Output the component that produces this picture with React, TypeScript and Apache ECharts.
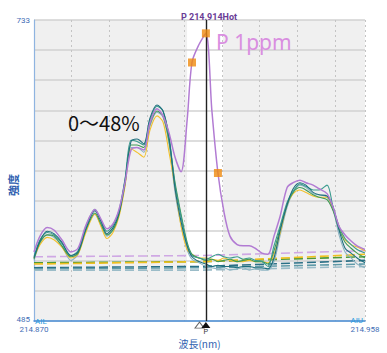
import React, { useEffect, useRef } from "react";
import * as echarts from "echarts";

const X_MIN = 214.87;
const X_MAX = 214.958;
const Y_MIN = 485;
const Y_MAX = 733;
const CURSOR = 214.9157;
const PEAK_WL = 214.914;
const BAND = [214.9107, 214.9202];

const wavelengths = [
  214.87, 214.8716, 214.8735, 214.8753, 214.8774, 214.8798, 214.8817, 214.8838, 214.8862, 214.8878,
  214.8894, 214.891, 214.8926, 214.8942, 214.8958, 214.8974, 214.8992, 214.9008, 214.9027, 214.9043,
  214.9059, 214.9075, 214.9091, 214.9107, 214.912, 214.9139, 214.9157, 214.9173, 214.9189, 214.9205,
  214.9221, 214.924, 214.9256, 214.9272, 214.9288, 214.9306, 214.9322, 214.9338, 214.9354, 214.9373,
  214.9389, 214.9407, 214.9423, 214.9442, 214.9458, 214.9479, 214.9495, 214.9511, 214.9527, 214.9543,
  214.9559, 214.958,
];

const p1ppm = [542, 555, 562, 560, 552, 542, 545, 564, 577, 569, 561, 565, 577, 599, 626, 628, 626, 648, 660, 654, 640, 620, 608, 650, 698, 713, 722, 658, 607, 575, 555, 548, 547, 547, 545, 541, 540, 555, 571, 595, 599, 601, 599, 597, 594, 590, 579, 563, 556, 551, 547, 544];
const s1 = [537, 551, 559, 557, 550, 539, 542, 561, 576, 567, 557, 562, 574, 601, 633, 635, 631, 652, 663, 658, 636, 594, 567, 547, 538, 534, 532, 530, 531, 530, 530, 529, 530, 530, 529, 529, 528, 537, 559, 581, 594, 599, 597, 591, 589, 588, 579, 560, 545, 541, 537, 533];
const s2 = [538, 552, 558, 556, 549, 539, 543, 563, 577, 568, 559, 564, 576, 602, 634, 633, 630, 650, 662, 658, 637, 597, 571, 548, 539, 537, 536, 538, 540, 538, 537, 538, 536, 537, 535, 534, 530, 547, 563, 583, 592, 598, 596, 593, 593, 597, 579, 563, 553, 548, 544, 541];
const s3 = [536, 550, 556, 555, 547, 538, 541, 560, 574, 565, 556, 560, 573, 598, 630, 630, 628, 647, 658, 654, 633, 599, 573, 550, 540, 537, 535, 536, 534, 535, 536, 534, 535, 536, 534, 534, 532, 543, 561, 581, 591, 595, 593, 589, 587, 585, 576, 561, 550, 545, 541, 537];
const s4 = [537, 548, 554, 552, 546, 537, 540, 558, 573, 563, 553, 558, 571, 596, 627, 624, 620, 642, 654, 649, 624, 595, 563, 544, 540, 537, 537, 536, 535, 537, 535, 534, 534, 535, 534, 534, 533, 540, 557, 581, 590, 593, 591, 588, 587, 587, 577, 563, 552, 548, 546, 543];
const s5 = [535, 549, 556, 554, 547, 535, 540, 560, 573, 564, 555, 560, 573, 598, 628, 628, 624, 645, 657, 653, 631, 591, 564, 544, 536, 533, 530, 529, 528, 529, 527, 528, 529, 527, 528, 527, 527, 534, 555, 579, 591, 597, 595, 590, 589, 587, 577, 556, 542, 537, 532, 529];

const baseX = [214.87, 214.915, 214.958];
const basePurple = [538, 539, 543];
const baseGreen = [533, 534, 538];
const baseYellow = [532, 534, 540];
const baseTeal = [529, 530, 535];
const baseTeal2 = [528, 529, 532];
const baseGrey = [527, 527, 530];

const markerIdx = [24, 26, 28];

export default function App() {
  const ref = useRef<HTMLDivElement>(null);
  useEffect(() => {
    const chart = echarts.init(ref.current!, null, { renderer: "svg" });
    const pair = (xs: number[], ys: number[]) => xs.map((w, i) => [w, ys[i]]);
    const solid = (name: string, ys: number[], color: string, width = 1.1) => ({
      name,
      type: "line",
      data: pair(wavelengths, ys),
      symbol: "none",
      smooth: 0.3,
      lineStyle: { color, width },
      itemStyle: { color },
      z: 3,
    });
    const dashed = (name: string, ys: number[], color: string) => ({
      name,
      type: "line",
      data: pair(baseX, ys),
      symbol: "none",
      lineStyle: { color, width: 1.6, type: [9, 4] },
      itemStyle: { color },
      z: 2,
    });
    const near = (a: number, b: number) => Math.abs(a - b) < 1e-6;
    const bgSeries: any = dashed("base-p", basePurple, "#cfa8e4");
    bgSeries.markArea = {
      silent: true,
      z: -1,
      itemStyle: { color: "#f0f0f0" },
      data: [
        [{ xAxis: X_MIN }, { xAxis: BAND[0] }],
        [{ xAxis: BAND[1] }, { xAxis: X_MAX }],
      ],
    };
    const purple: any = solid("P 1ppm", p1ppm, "#b27bd3", 1.5);
    purple.z = 4;
    purple.markLine = {
      silent: true,
      precision: 4,
      symbol: ["none", "none"],
      label: { show: false },
      lineStyle: { color: "#222", width: 1.4, type: "solid" },
      data: [{ xAxis: CURSOR }],
    };
    purple.markPoint = {
      silent: true,
      precision: 4,
      data: [
        {
          coord: [PEAK_WL, Y_MIN],
          symbol: "triangle",
          symbolSize: [9, 6],
          symbolOffset: [0, 4],
          itemStyle: { color: "#fff", borderColor: "#666", borderWidth: 1 },
          label: { show: false },
        },
        {
          coord: [CURSOR, Y_MIN],
          symbol: "triangle",
          symbolSize: [9, 6],
          symbolOffset: [0, 4],
          itemStyle: { color: "#111" },
          label: { show: true, formatter: "P", position: "bottom", distance: 0, fontSize: 7, color: "#333" },
        },
      ],
    };
    const option: any = {
      animation: false,
      title: {
        text: "P 214.914Hot",
        left: 204,
        textAlign: "center",
        top: 7,
        textStyle: { fontSize: 9, fontWeight: "bold", color: "#6a3c96", fontFamily: "Roboto" },
      },
      grid: { left: 34, right: 22, top: 20, bottom: 27, show: false },
      xAxis: {
        type: "value",
        min: X_MIN,
        max: X_MAX,
        interval: 0.01,
        name: "波長(nm)",
        nameLocation: "middle",
        nameGap: 15,
        nameTextStyle: { fontSize: 10, color: "#2f5fb0", fontFamily: "Noto Sans CJK JP" },
        axisLine: { show: true, lineStyle: { color: "#4a8fd8", width: 1.5 } },
        axisTick: { show: false },
        axisLabel: {
          showMinLabel: true,
          showMaxLabel: true,
          margin: 4,
          fontSize: 8,
          color: "#3f6db5",
          fontFamily: "Roboto",
          formatter: (v: number) => (near(v, X_MIN) || near(v, X_MAX) ? v.toFixed(3) : ""),
        },
        splitLine: { show: true, lineStyle: { color: "#c4c4c4", width: 1, type: [2, 3] } },
      },
      yAxis: {
        type: "value",
        min: Y_MIN,
        max: Y_MAX,
        interval: 24.8,
        axisLine: { show: true, lineStyle: { color: "#8fb4e0", width: 1.2 } },
        axisTick: { show: false },
        axisLabel: {
          showMinLabel: true,
          showMaxLabel: true,
          margin: 4,
          fontSize: 8,
          color: "#3f6db5",
          fontFamily: "Roboto",
          formatter: (v: number) =>
            near(v, Y_MAX) ? "733" : near(v, Y_MIN) ? "{lo|485}" : "",
          rich: { lo: { fontSize: 8, color: "#3f6db5", fontFamily: "Roboto", padding: [0, 0, 4, 0] } },
        },
        splitLine: { show: true, lineStyle: { color: "#d2d2d2", width: 1.5 } },
      },
      graphic: [
        {
          type: "text",
          x: 13,
          y: 185,
          rotation: Math.PI / 2,
          style: { text: "強度", fontSize: 11, fontWeight: "bold", fill: "#2f5fb0", align: "center", verticalAlign: "middle", fontFamily: "Noto Sans CJK JP" },
        },
        {
          type: "text",
          x: 68,
          y: 122,
          style: { text: "0～48%", fontSize: 20, fill: "#111", verticalAlign: "middle", fontFamily: "Noto Sans CJK JP" },
          z: 10,
        },
        {
          type: "text",
          x: 216,
          y: 42,
          style: { text: "P 1ppm", fontSize: 21, fill: "#d98ee0", verticalAlign: "middle", fontFamily: "Noto Sans" },
          z: 10,
        },
        {
          type: "text",
          x: 35,
          y: 321,
          style: { text: "AIL", fontSize: 8, fill: "#2b9be0", verticalAlign: "middle", fontFamily: "Roboto" },
          z: 10,
        },
        {
          type: "text",
          x: 363,
          y: 320,
          style: { text: "AIU", fontSize: 8, fill: "#2b9be0", align: "right", verticalAlign: "middle", fontFamily: "Roboto" },
          z: 10,
        },
      ],
      series: [
        bgSeries,
        dashed("base-g", baseGreen, "#4f9a3a"),
        dashed("base-y", baseYellow, "#f0c020"),
        dashed("base-t", baseTeal, "#2a6f86"),
        dashed("base-t2", baseTeal2, "#5f9aa8"),
        dashed("base-gr", baseGrey, "#9bbcc8"),
        solid("s5", s5, "#8db4c2"),
        solid("s4", s4, "#f2c12e"),
        solid("s3", s3, "#3f9a55"),
        solid("s2", s2, "#3a9b8e"),
        solid("s1", s1, "#1e6f7e"),
        purple,
        {
          name: "markers",
          type: "scatter",
          data: markerIdx.map((i) => [wavelengths[i], p1ppm[i]]),
          symbol: "rect",
          symbolSize: 8,
          itemStyle: { color: "#ef8a0e" },
          z: 6,
        },
      ],
    };
    chart.setOption(option);
    return () => chart.dispose();
  }, []);
  return <div ref={ref} style={{ width: 387, height: 353, position: "absolute", left: 0, top: 0 }} />;
}
